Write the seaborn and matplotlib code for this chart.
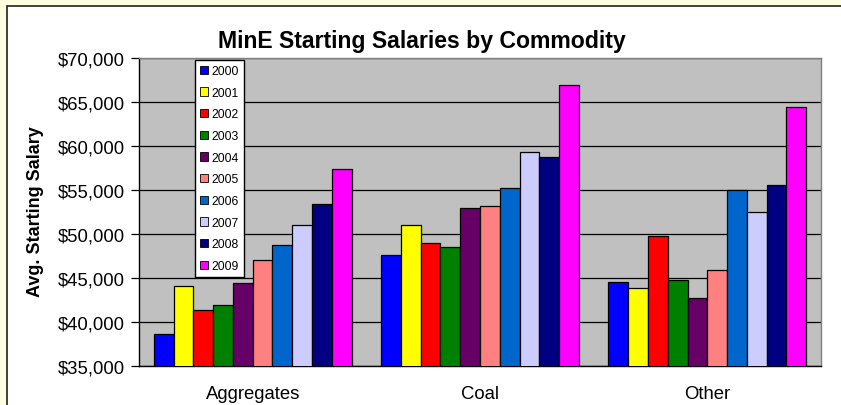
import numpy as np
import pandas as pd
import seaborn as sns
import matplotlib.pyplot as plt
from matplotlib.patches import Rectangle
from matplotlib.ticker import FuncFormatter, MultipleLocator, FixedLocator

######## data ########
commodities = ['Aggregates', 'Coal', 'Other']
years = ['2000', '2001', '2002', '2003', '2004', '2005', '2006', '2007', '2008', '2009']
aggregates = [38650, 44100, 41400, 41900, 44400, 47100, 48700, 51050, 53400, 57350]
coal = [47650, 51050, 48950, 48550, 53000, 53150, 55250, 59300, 58750, 66950]
other = [44500, 43850, 49750, 44750, 42700, 45950, 54950, 52450, 55550, 64400]
year_colors = ['#0000FF', '#FFFF00', '#FF0000', '#008000', '#660066',
               '#FF8080', '#0066CC', '#CCCCFF', '#000080', '#FF00FF']

rows = []
for name, vals in zip(commodities, [aggregates, coal, other]):
    for yr, v in zip(years, vals):
        rows.append({'Commodity': name, 'Year': yr, 'Salary': v})
d = pd.DataFrame(rows)

######## figure ########
sns.set_style("white")
plt.rcParams['font.family'] = ['Liberation Sans', 'DejaVu Sans']
plt.rcParams['text.color'] = 'black'
plt.rcParams['xtick.color'] = 'black'
plt.rcParams['ytick.color'] = 'black'

W, H = 841, 406
fig = plt.figure(figsize=(W / 100, H / 100), dpi=100, facecolor='#FFFFE0')
# white chart area with dark border
fig.patches.append(Rectangle((7 / W, -0.1), 1.2, 1.1 - 7 / H, transform=fig.transFigure,
                             facecolor='white', edgecolor='#202020', linewidth=1.2, zorder=-5))

ax = fig.add_axes([139 / W, (H - 367) / H, 682 / W, 308 / H])
ax.set_facecolor('#C0C0C0')

sns.barplot(x='Commodity', y='Salary', hue='Year', data=d, palette=year_colors,
            saturation=1, width=0.87, edgecolor='black', linewidth=0.9,
            errorbar=None, ax=ax, zorder=3)

ax.set_ylim(35000, 70000)
ax.set_xlim(-0.5, 2.5)
ax.yaxis.set_major_locator(MultipleLocator(5000))
ax.yaxis.set_major_formatter(FuncFormatter(lambda v, p: '${:,.0f}'.format(v)))
ax.grid(axis='y', color='black', linewidth=0.9, zorder=1)
ax.set_axisbelow(True)
ax.set_xlabel('')
ax.set_ylabel('')

ax.xaxis.set_minor_locator(FixedLocator([-0.5, 0.5, 1.5, 2.5]))
ax.tick_params(axis='x', which='major', length=0, pad=14, labelsize=13.3, colors='black')
ax.tick_params(axis='x', which='minor', length=5, width=0.9, color='black', direction='out')
ax.tick_params(axis='y', length=6, width=0.9, color='black', direction='out', pad=4,
               labelsize=13.3, left=True)

for s in ['left', 'bottom']:
    ax.spines[s].set_color('black')
    ax.spines[s].set_linewidth(1.0)
for s in ['top', 'right']:
    ax.spines[s].set_color('#808080')
    ax.spines[s].set_linewidth(1.0)

leg = ax.legend(loc='upper left', bbox_to_anchor=(195 / W, 1 - 61 / H),
                bbox_transform=fig.transFigure, borderaxespad=0, frameon=True,
                fancybox=False, edgecolor='black', facecolor='white', framealpha=1,
                fontsize=8.7, handlelength=0.65, handleheight=0.65, handletextpad=0.3,
                labelspacing=0.8, borderpad=0.42, title=None)
leg.get_frame().set_linewidth(1.0)
for h in leg.legend_handles:
    h.set_edgecolor('black')
    h.set_linewidth(0.6)

fig.text(422 / W, 1 - 48 / H, 'MinE Starting Salaries by Commodity', ha='center',
         va='baseline', fontsize=16.6, fontweight='bold')
fig.text(36 / W, 1 - 212 / H, 'Avg. Starting Salary', rotation=90, ha='center',
         va='center', fontsize=13, fontweight='bold')

plt.savefig('out.png', dpi=100, facecolor=fig.get_facecolor())
